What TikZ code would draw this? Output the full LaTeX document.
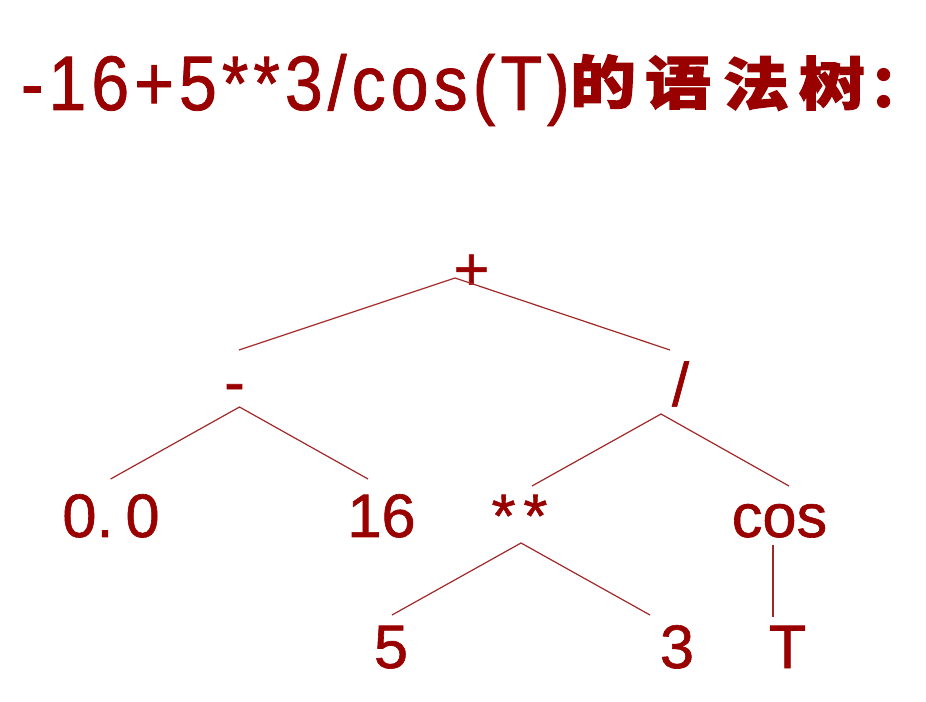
\documentclass[tikz,border=0pt]{standalone}
\usepackage{fontspec}
\setmainfont{Liberation Sans}
\newfontfamily\titlefont{Liberation Sans}[FakeStretch=0.88,LetterSpace=6.5,FakeBold=1]
\newfontfamily\treefont{Liberation Sans}[FakeBold=1]
\newfontfamily\cjk{Noto Sans CJK SC}[BoldFeatures={FakeBold=1.8}]
\definecolor{tx}{RGB}{153,0,0}
\definecolor{ln}{RGB}{160,40,40}
\begin{document}
\begin{tikzpicture}[x=0.75pt,y=-0.75pt,
  lbl/.style={text=tx,font=\fontsize{46}{48}\selectfont\treefont,inner sep=0pt,anchor=base},
  cjkc/.style={text=tx,font=\fontsize{43}{45}\selectfont\cjk\bfseries,inner sep=0pt,anchor=center},
  edge/.style={draw=ln,line width=0.9pt}]
\useasboundingbox (0,0) rectangle (926,702);
% title
\node[anchor=base west,inner sep=0pt,text=tx,font=\fontsize{58}{60}\selectfont\titlefont] (title) at (20.6,110) {-16+5**3/cos(T)};
\node[cjkc] (c1) at (603,81.5) {\scalebox{1.15}[1]{的}};
\node[cjkc] (c2) at (678,82.5) {\scalebox{1.15}[1]{语}};
\node[cjkc] (c3) at (756,83.5) {\scalebox{1.15}[1]{法}};
\node[cjkc] (c4) at (832,83) {\scalebox{1.15}[1]{树}};
\node[cjkc,anchor=west] (c5) at (869,88) {：};
% tree nodes
\node[lbl] (plus) at (471.5,290) {+};
\node[lbl] (minus) at (234.5,403) {-};
\node[lbl] (slash) at (680.5,406) {/};
\node[lbl] (zero) at (111,537) {0.\kern9pt0};
\node[lbl] (sixteen) at (381.5,537) {16};
\node[lbl] (pow) at (519.5,537) {*\kern6pt*};
\node[lbl] (cos) at (779.5,537) {cos};
\node[lbl] (five) at (391,668) {5};
\node[lbl] (three) at (677,668) {3};
\node[lbl] (tee) at (787.5,668) {T};
% connector ends
\coordinate (plusB) at (455,278);
\coordinate (minusT) at (239,350);
\coordinate (slashT) at (670,350);
\coordinate (minusB) at (239.5,407);
\coordinate (zeroT) at (110.6,479);
\coordinate (sixteenT) at (368,479);
\coordinate (slashB) at (661,414);
\coordinate (powT) at (532,486);
\coordinate (cosT) at (789,486);
\coordinate (powB) at (521,543);
\coordinate (fiveT) at (392,615);
\coordinate (threeT) at (650,615);
\coordinate (cosB) at (773,545);
\coordinate (teeT) at (773,617);
% connectors
\draw[edge] (minusT) -- (plusB) -- (slashT);
\draw[edge] (zeroT) -- (minusB) -- (sixteenT);
\draw[edge] (powT) -- (slashB) -- (cosT);
\draw[edge] (fiveT) -- (powB) -- (threeT);
\draw[edge] (cosB) -- (teeT);
\end{tikzpicture}
\end{document}
